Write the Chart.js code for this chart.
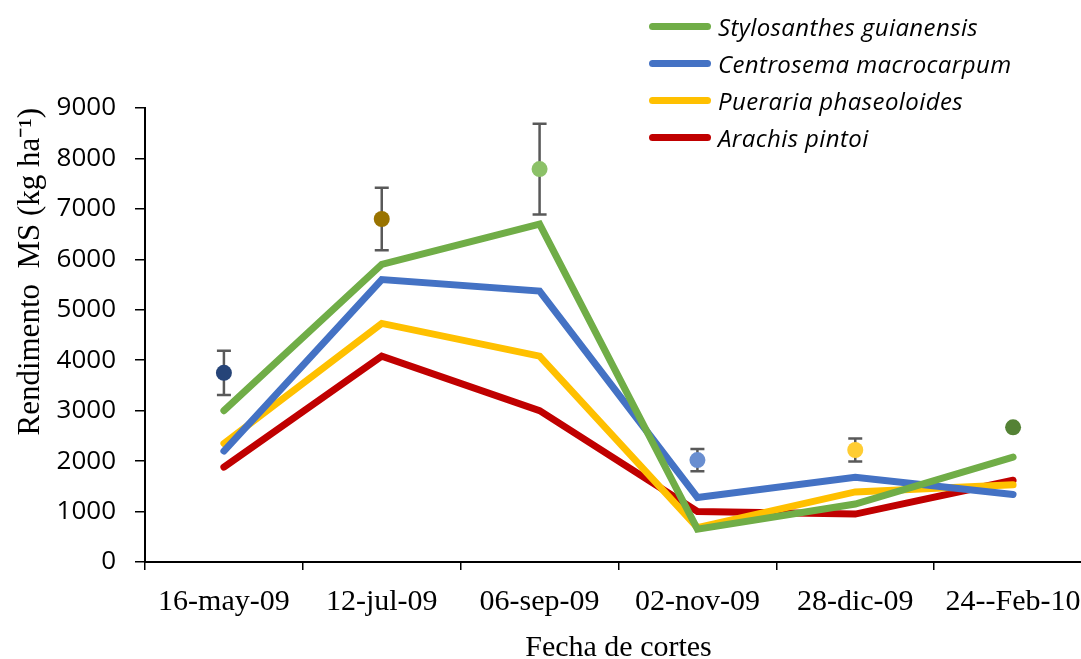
<!DOCTYPE html>
<html>
<head>
<meta charset="utf-8">
<script src="https://cdn.jsdelivr.net/npm/chart.js@4"></script>
<style>
    html, body { margin: 0; padding: 0; background: #fff; overflow: hidden; }
    #wrap { position: relative; width: 1100px; height: 665px; }
    #leyenda { position: absolute; left: 649px; top: 8px; font-family: 'Open Sans', sans-serif; font-style: italic; font-size: 24px; letter-spacing: 0.4px; color: #000; }
    .fila { display: flex; align-items: center; height: 37px; }
    .linea { width: 62px; height: 7px; border-radius: 3.5px; margin-right: 7px; }
</style>
</head>
<body>
<div id="wrap">
    <canvas id="grafico" width="1100" height="665"></canvas>
    <div id="leyenda"></div>
</div>
<script>
// Fechas de corte
const fechas = ['16-may-09', '12-jul-09', '06-sep-09', '02-nov-09', '28-dic-09', '24--Feb-10'];

// Rendimiento por especie (kg MS/ha)
const stylosanthes = [3000, 5900, 6700, 650, 1150, 2080];
const centrosema = [2200, 5600, 5370, 1280, 1680, 1340];
const pueraria = [2350, 4730, 4080, 680, 1390, 1530];
const arachis = [1880, 4080, 3000, 1000, 950, 1620];

// Promedio por fecha y su error
const promedio = [3750, 6800, 7790, 2020, 2220, 2670];
const errorEst = [440, 620, 900, 220, 230, 0];

const especies = ['Stylosanthes guianensis', 'Centrosema macrocarpum', 'Pueraria phaseoloides', 'Arachis pintoi'];
const coloresEspecie = ['#70AD47', '#4472C4', '#FFC000', '#C00000'];
const coloresPunto = ['#264478', '#997300', '#8CC168', '#698ED0', '#FFCD33', '#548235'];

const yTicks = [0, 1000, 2000, 3000, 4000, 5000, 6000, 7000, 8000, 9000];

// Legend (HTML)
const leyenda = document.getElementById('leyenda');
especies.forEach((nombre, i) => {
    const fila = document.createElement('div');
    fila.className = 'fila';
    fila.innerHTML = `<span class="linea" style="background:${coloresEspecie[i]}"></span><span>${nombre}</span>`;
    leyenda.appendChild(fila);
});

// Draw error bars from the y scale
const barrasError = {
    id: 'barrasError',
    beforeDatasetsDraw(chart) {
        const { ctx, scales: { x, y } } = chart;
        ctx.save();
        ctx.strokeStyle = '#595959';
        ctx.lineWidth = 2.5;
        promedio.forEach((v, i) => {
            if (!errorEst[i]) return;
            const px = x.getPixelForValue(i);
            const top = y.getPixelForValue(v + errorEst[i]);
            const bot = y.getPixelForValue(v - errorEst[i]);
            ctx.beginPath();
            ctx.moveTo(px, top); ctx.lineTo(px, bot);
            ctx.moveTo(px - 7, top); ctx.lineTo(px + 7, top);
            ctx.moveTo(px - 7, bot); ctx.lineTo(px + 7, bot);
            ctx.stroke();
        });
        ctx.restore();
    }
};

const series = [stylosanthes, centrosema, pueraria, arachis];
const datasets = series.map((d, i) => ({
    label: especies[i],
    data: d,
    borderColor: coloresEspecie[i],
    backgroundColor: coloresEspecie[i],
    borderWidth: 7,
    borderCapStyle: 'round',
    pointRadius: 0,
    tension: 0
}));
datasets.push({
    label: 'Promedio',
    data: promedio,
    showLine: false,
    pointRadius: 8,
    pointBorderWidth: 0,
    pointBackgroundColor: coloresPunto,
    pointBorderColor: coloresPunto
});

new Chart(document.getElementById('grafico'), {
    type: 'line',
    data: { labels: fechas, datasets },
    options: {
        responsive: false,
        animation: false,
        layout: { padding: { left: 0, top: 108, right: 8, bottom: 0 } },
        plugins: { legend: { display: false }, tooltip: { enabled: false } },
        scales: {
            x: {
                offset: true,
                afterFit: (s) => { s.height = 103; },
                grid: { offset: true, drawOnChartArea: false, color: '#000', tickLength: 8, lineWidth: 1.5 },
                border: { color: '#000', width: 2 },
                ticks: { color: '#000', padding: 14, font: { family: 'Liberation Serif', size: 30 } },
                title: { display: true, text: 'Fecha de cortes', color: '#000', padding: { top: 0, bottom: 2 }, font: { family: 'Liberation Serif', size: 30, lineHeight: 1 } }
            },
            y: {
                min: 0,
                max: 9000,
                afterFit: (s) => { s.width = 145; },
                afterBuildTicks: (s) => { s.ticks = yTicks.map(v => ({ value: v })); },
                grid: { drawOnChartArea: false, color: '#000', tickLength: 10, lineWidth: 1.5 },
                border: { color: '#000', width: 2 },
                ticks: { color: '#000', padding: 19, font: { family: 'Open Sans', size: 26 }, callback: (v) => String(v) },
                title: { display: true, text: 'Rendimento  MS (kg ha⁻¹)', align: 'end', color: '#000', padding: { top: 12, bottom: 0 }, font: { family: 'Liberation Serif', size: 31 } }
            }
        }
    },
    plugins: [barrasError]
});
</script>
</body>
</html>
